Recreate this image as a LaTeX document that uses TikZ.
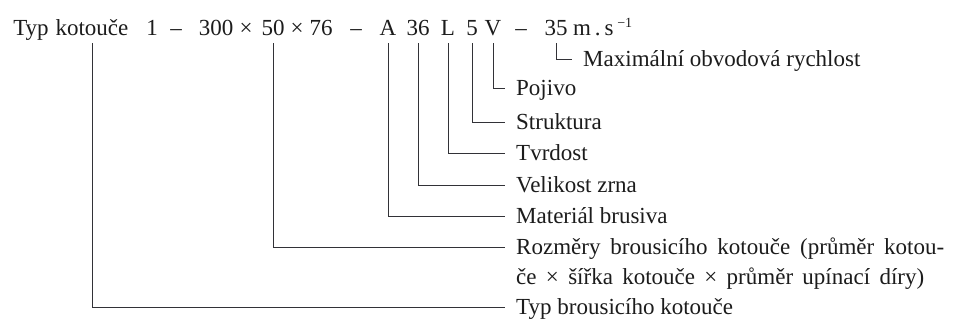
\documentclass[tikz,border=0pt]{standalone}
\usepackage{fontspec}
\setmainfont{Liberation Serif}
\definecolor{ink}{RGB}{28,28,28}
\definecolor{wire}{RGB}{50,50,55}
\begin{document}
\begin{tikzpicture}[x=1pt,y=-1pt,
  txt/.style={font=\fontsize{23pt}{27pt}\selectfont, text=ink},
  tok/.style={txt, inner sep=0pt, anchor=base, text depth=7pt},
  lab/.style={txt, anchor=west, inner xsep=11pt, inner ysep=0pt, text height=20pt, text depth=5pt},
  conn/.style={draw=wire, line width=0.9pt}]
\useasboundingbox[fill=white] (0,0) rectangle (954,320);
% top designation
\node[tok] (typ) at (31,36) {Typ};
\node[tok] (kot) at (92,36) {kotouče};
\node[tok] (one) at (152,36) {1};
\node[tok] (d1) at (176,36) {–};
\node[tok] (n300) at (216,36) {300};
\node[tok] (x1) at (246,36) {×};
\node[tok] (n50) at (273,36) {50};
\node[tok] (x2) at (297,36) {×};
\node[tok] (n76) at (321,36) {76};
\node[tok] (d2) at (356,36) {–};
\node[tok] (a) at (388,36) {A};
\node[tok] (n36) at (418,36) {36};
\node[tok] (l) at (448,36) {L};
\node[tok] (n5) at (472,36) {5};
\node[tok] (v) at (493,36) {V};
\node[tok] (d3) at (521,36) {–};
\node[tok] (n35) at (556,36) {35};
\node[tok, anchor=base west] (ms) at (573,36) {m\,.\,s\,\raisebox{8pt}{\fontsize{14pt}{14pt}\selectfont −1}};
% labels
\node[lab] (max) at (572,59) {Maximální obvodová rychlost};
\node[lab] (poj) at (505,88) {Pojivo};
\node[lab] (str) at (505,122) {Struktura};
\node[lab] (tvr) at (505,153) {Tvrdost};
\node[lab] (vel) at (505,185) {Velikost zrna};
\node[lab] (mat) at (505,216) {Materiál brusiva};
\node[lab] (roz) at (505,247) {\makebox[428pt][s]{Rozměry brousicího kotouče (průměr kotou-}};
\node[lab] (roz2) at (505,277) {\makebox[408pt][s]{če × šířka kotouče × průměr upínací díry)}};
\node[lab, text height=17pt, text depth=2pt] (tbk) at (505,307) {Typ brousicího kotouče};
% connectors
\draw[conn] (n35.south) |- (max.west);
\draw[conn] (v.south) |- (poj.west);
\draw[conn] (n5.south) |- (str.west);
\draw[conn] (l.south) |- (tvr.west);
\draw[conn] (n36.south) |- (vel.west);
\draw[conn] (a.south) |- (mat.west);
\draw[conn] (n50.south) |- (roz.west);
\draw[conn] (kot.south) |- (tbk.west);
\end{tikzpicture}
\end{document}
